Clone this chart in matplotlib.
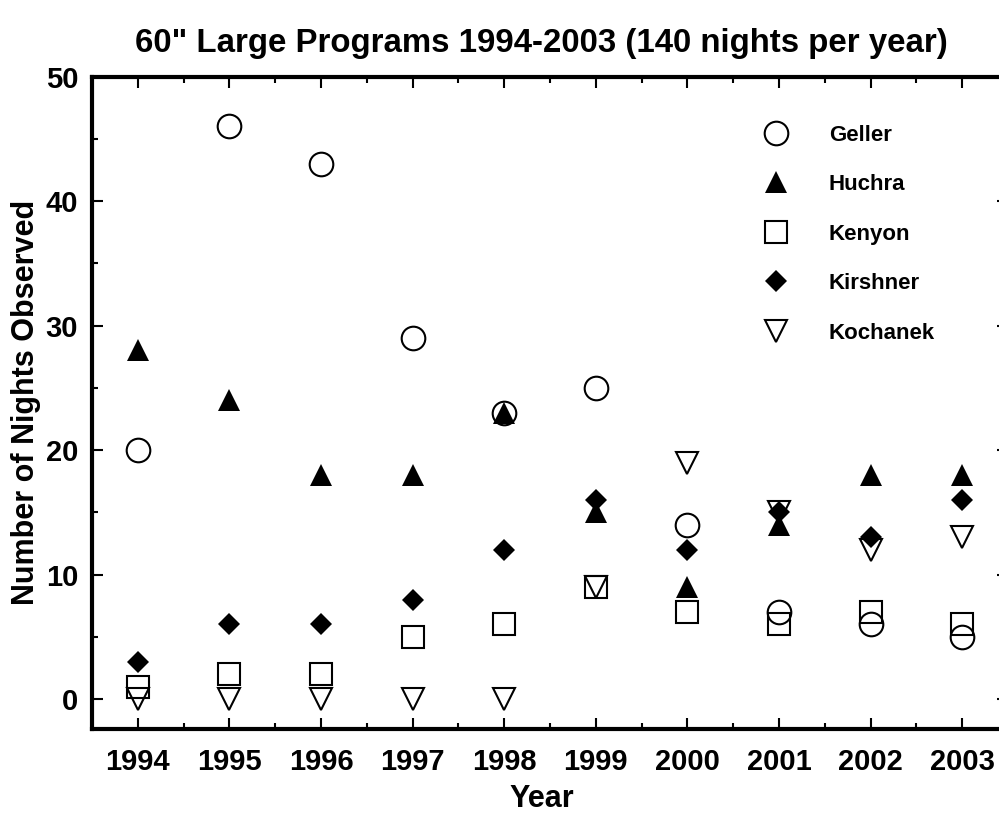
import matplotlib as mpl
mpl.use("Agg")
import matplotlib.pyplot as plt
from matplotlib.ticker import MultipleLocator

plt.rcParams['font.family'] = ['Liberation Sans', 'DejaVu Sans']
plt.rcParams['font.weight'] = 'bold'

years = [1994, 1995, 1996, 1997, 1998, 1999, 2000, 2001, 2002, 2003]
geller = [20, 46, 43, 29, 23, 25, 14, 7, 6, 5]
huchra = [28, 24, 18, 18, 23, 15, 9, 14, 18, 18]
kenyon = [1, 2, 2, 5, 6, 9, 7, 6, 7, 6]
kirshner = [3, 6, 6, 8, 12, 16, 12, 15, 13, 16]
kochanek = [0, 0, 0, 0, 0, 9, 19, 15, 12, 13]

fig = plt.figure(figsize=(9.99, 8.13), dpi=100)
ax = fig.add_axes([0.0921, 0.1033, 0.917, 0.8026])

ew = 1.5
ax.plot(years, geller, 'o', ms=17, mfc='none', mec='black', mew=ew, label='Geller', clip_on=False)
ax.plot(years, huchra, '^', ms=16, mfc='black', mec='black', mew=0, label='Huchra', clip_on=False)
ax.plot(years, kenyon, 's', ms=16.5, mfc='none', mec='black', mew=ew, label='Kenyon', clip_on=False)
ax.plot(years, kirshner, 'D', ms=11.5, mfc='black', mec='black', mew=0, label='Kirshner', clip_on=False)
ax.plot(years, kochanek, 'v', ms=16, mfc='none', mec='black', mew=ew, label='Kochanek', clip_on=False)

ax.set_xlim(1993.5, 2003.5)
ax.set_ylim(-2.4, 50)
ax.xaxis.set_major_locator(MultipleLocator(1))
ax.xaxis.set_minor_locator(MultipleLocator(0.5))
ax.yaxis.set_major_locator(MultipleLocator(10))
ax.yaxis.set_minor_locator(MultipleLocator(5))
ax.tick_params(which='both', direction='in', top=True, right=True, width=1.5, labelsize=21)
ax.tick_params(which='major', length=8)
ax.tick_params(axis='x', which='major', pad=14)
ax.tick_params(axis='y', which='major', pad=10)
ax.tick_params(which='minor', length=4)
for s in ax.spines.values():
    s.set_linewidth(3)

ax.set_title('60" Large Programs 1994-2003 (140 nights per year)', fontsize=23.8, fontweight='bold',
             pad=18, x=0.491)
ax.set_xlabel('Year', fontsize=22, fontweight='bold')
ax.xaxis.set_label_coords(0.491, -0.084)
ax.set_ylabel('Number of Nights Observed', fontsize=22, fontweight='bold', labelpad=3)

ax.legend(loc='upper left', bbox_to_anchor=(0.722, 0.926), frameon=False, fontsize=16,
          labelspacing=1.28, handletextpad=1.4, borderaxespad=0, borderpad=0)

fig.savefig('out.png', dpi=100)
